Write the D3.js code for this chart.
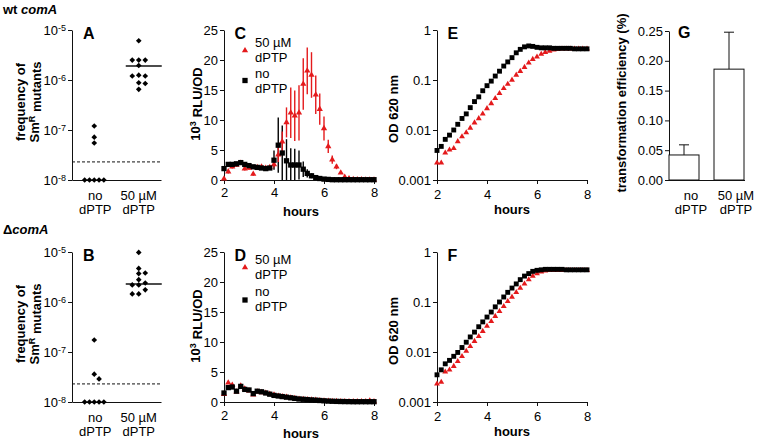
<!DOCTYPE html>
<html><head><meta charset="utf-8">
<script src="https://cdn.jsdelivr.net/npm/d3@7"></script>
<style>
body{margin:0;background:#fff;}
svg{display:block;font-family:"Liberation Sans",Arial,Helvetica,sans-serif;}
</style></head><body>
<svg id="c" width="757" height="441"></svg>
<script>
// ---------------- DATA ----------------
const groups = ["no dPTP", "50 µM dPTP"];
const groupLines = [["no", "dPTP"], ["50 µM", "dPTP"]];

// Panel A (wt comA) frequency of SmR mutants
const freqA_no   = [1.2e-7, 7.2e-8, 5.5e-8, 1e-8, 1e-8, 1e-8, 1e-8, 1e-8];
const freqA_dptp = [6.1e-6, 2.5e-6, 2.5e-6, 2.5e-6, 1.95e-6, 1.25e-6, 1.2e-6, 1.2e-6, 8.8e-7, 8.5e-7, 6.5e-7];
const medianA = 1.9e-6;
// Panel B (ΔcomA)
const freqB_no   = [1.74e-7, 3.6e-8, 2.9e-8, 1e-8, 1e-8, 1e-8, 1e-8, 1e-8];
const freqB_dptp = [9.8e-6, 4.7e-6, 3.8e-6, 3.7e-6, 2.8e-6, 2.4e-6, 2.2e-6, 2.2e-6, 1.75e-6, 1.45e-6, 1.45e-6];
const medianB = 2.3e-6;
const detectionLimit = 2.3e-8;
const freqTicks = [1e-8, 1e-7, 1e-6, 1e-5];

// time points (hours)
const hours = [2.00,2.17,2.33,2.50,2.67,2.83,3.00,3.17,3.33,3.50,3.67,3.83,4.00,4.17,4.33,4.50,4.67,4.83,5.00,5.17,5.33,5.50,5.67,5.83,6.00,6.17,6.33,6.50,6.67,6.83,7.00,7.17,7.33,7.50,7.67,7.83,8.00];
const hourTicks = [2, 4, 6, 8];

// Panel C: 10^3 RLU/OD, wt
const rluC_dptp    = [0.2,1.4,2.2,2.5,2.8,1.9,2.0,1.0,2.1,2.2,2.0,2.1,2.6,4.2,6.4,9.6,11.2,10.7,11.2,16.0,18.2,17.5,14.2,11.8,8.6,5.6,3.4,2.2,1.2,0.5,0.25,0.1,0.05,0.05,0.03,0.03,0.03];
const rluC_dptpErr = [0.3,0.3,0.3,0.3,0.3,0.3,0.3,0.3,0.3,0.3,0.3,0.3,0.5,1.2,1.7,2.5,4.2,4.2,4.6,4.3,3.9,3.8,3.2,2.6,2.0,1.1,0.7,0.4,0.2,0.2,0.1,0.1,0.1,0.1,0.1,0.1,0.1];
const rluC_no      = [1.9,2.6,2.6,2.7,2.9,2.6,2.4,2.2,2.1,2.0,1.9,2.0,3.3,5.8,4.5,3.2,2.5,2.5,2.5,1.8,1.1,0.7,0.4,0.25,0.15,0.1,0.05,0.05,0.05,0.05,0.05,0.05,0.05,0.05,0.05,0.05,0.05];
const rluC_noErr   = [0.2,0.2,0.2,0.2,0.2,0.2,0.2,0.2,0.2,0.2,0.2,0.2,1.6,4.6,4.6,3.6,2.8,2.7,2.4,1.3,0.7,0.4,0.2,0.1,0.1,0.1,0.1,0.1,0.1,0.1,0.1,0.1,0.1,0.1,0.1,0.1,0.1];
// Panel D: ΔcomA
const rluD_dptp = [1.3,3.2,2.8,1.7,2.7,2.2,1.9,1.2,1.7,1.6,1.5,1.3,1.2,1.0,0.9,0.8,0.7,0.6,0.5,0.45,0.4,0.35,0.3,0.25,0.2,0.15,0.12,0.1,0.08,0.07,0.06,0.05,0.05,0.05,0.05,0.2,0.05];
const rluD_no   = [1.5,2.4,2.5,1.8,2.6,2.1,2.0,1.4,1.8,1.7,1.5,1.3,1.1,1.0,0.9,0.8,0.7,0.6,0.5,0.45,0.4,0.35,0.3,0.25,0.2,0.15,0.12,0.1,0.08,0.07,0.06,0.05,0.05,0.05,0.05,0.05,0.05];
const rluTicks = [0, 5, 10, 15, 20, 25];

// Panel E/F: OD 620 nm
const odE_no   = [0.0039,0.0047,0.0065,0.0079,0.010,0.013,0.017,0.021,0.028,0.037,0.046,0.061,0.077,0.095,0.12,0.15,0.19,0.23,0.28,0.35,0.41,0.46,0.48,0.47,0.45,0.44,0.44,0.44,0.43,0.43,0.43,0.43,0.43,0.42,0.42,0.42,0.42];
const odE_dptp = [0.0022,0.0022,0.0035,0.0040,0.0043,0.0059,0.0074,0.0089,0.011,0.014,0.017,0.021,0.027,0.034,0.043,0.054,0.068,0.083,0.10,0.126,0.15,0.18,0.22,0.26,0.29,0.33,0.36,0.38,0.40,0.41,0.42,0.42,0.42,0.42,0.42,0.42,0.42];
const odF_no   = [0.0035,0.0044,0.0058,0.0068,0.0082,0.0098,0.0123,0.0157,0.020,0.025,0.032,0.040,0.050,0.063,0.080,0.10,0.126,0.156,0.19,0.23,0.28,0.33,0.37,0.41,0.43,0.44,0.45,0.45,0.45,0.45,0.45,0.44,0.44,0.44,0.44,0.44,0.44];
const odF_dptp = [0.0023,0.0025,0.0040,0.0044,0.0052,0.0065,0.0082,0.0104,0.013,0.0164,0.0206,0.026,0.033,0.041,0.052,0.065,0.082,0.103,0.126,0.156,0.19,0.23,0.28,0.33,0.37,0.40,0.42,0.43,0.43,0.43,0.43,0.43,0.43,0.43,0.43,0.43,0.43];
const odTicks = [0.001, 0.01, 0.1, 1];
const odTickLabels = ["0.001", "0.01", "0.1", "1"];

// Panel G: transformation efficiency (%)
const effValues = [0.042, 0.186];
const effErr = [0.017, 0.062];
const effTicks = [0, 0.05, 0.10, 0.15, 0.20, 0.25];

// ---------------- DRAW ----------------
const svg = d3.select("#c");
const RED = "#e41a1c";
const INK = "#111";
const FS = 13;

function styleAxis(g) {
  g.attr("font-size", FS).attr("font-family", null);
  g.selectAll("path.domain").attr("stroke", INK);
  g.selectAll(".tick line").attr("stroke", INK);
  g.selectAll(".tick text").attr("fill", "#000");
}
function supLabel(sel, base, sup, supSize) {
  sel.append("tspan").text(base);
  sel.append("tspan").attr("dy", "-0.5em").attr("font-size", supSize || 9).text(sup);
}
function panelLetter(x, y, s) {
  svg.append("text").attr("x", x).attr("y", y).attr("font-weight", "bold").attr("font-size", 16).text(s);
}
function yTitle(x, y, build) {
  const t = svg.append("text").attr("transform", `translate(${x},${y}) rotate(-90)`)
    .attr("text-anchor", "middle").attr("font-weight", "bold").attr("font-size", FS);
  build(t);
  return t;
}
const diamond = { draw(ctx, size) { const r = Math.sqrt(size / 2); ctx.moveTo(0, -r); ctx.lineTo(r, 0); ctx.lineTo(0, r); ctx.lineTo(-r, 0); ctx.closePath(); } };

function swarm(vals, cx, y, d, dyMin) {
  const placed = [];
  vals.slice().sort((a, b) => b - a).forEach(v => {
    const yy = y(v);
    for (let i = 0; i < 40; i++) {
      const off = i === 0 ? 0 : (i % 2 ? 1 : -1) * Math.ceil(i / 2) * d;
      const xx = cx + off;
      if (!placed.some(p => Math.abs(p.x - xx) < d * 0.9 && Math.abs(p.y - yy) < dyMin)) { placed.push({ x: xx, y: yy }); break; }
    }
  });
  return placed;
}

// ---- Dot plots A, B ----
function dotPanel(opts) {
  const x = d3.scalePoint().domain(groups).range([72, 161]).padding(0.5);
  const y = d3.scaleLog().domain([1e-8, 1e-5]).range([opts.y0, opts.y1]);
  const ga = svg.append("g").attr("transform", "translate(72,0)")
    .call(d3.axisLeft(y).tickValues(freqTicks).tickSize(4).tickSizeOuter(0).tickPadding(2).tickFormat(""));
  styleAxis(ga);
  ga.selectAll(".tick text").each(function (d) {
    const t = d3.select(this).attr("dy", "0.36em");
    supLabel(t, "10", String(Math.round(Math.log10(d))));
  });
  const gx = svg.append("g").attr("transform", `translate(0,${opts.y0})`)
    .call(d3.axisBottom(x).tickSize(0).tickSizeOuter(0).tickFormat(""));
  styleAxis(gx);
  // detection limit
  svg.append("line").attr("x1", 72).attr("x2", 161).attr("y1", y(detectionLimit)).attr("y2", y(detectionLimit))
    .attr("stroke", INK).attr("stroke-width", 1).attr("stroke-dasharray", "3,2");
  // median
  svg.append("line").attr("x1", x(groups[1]) - 13).attr("x2", x(groups[1]) + 23).attr("y1", y(opts.median)).attr("y2", y(opts.median))
    .attr("stroke", INK).attr("stroke-width", 1.5);
  [opts.no, opts.dptp].forEach((vals, i) => {
    swarm(vals, x(groups[i]), y, i === 0 ? 4.8 : 6.5, 5).forEach(p => {
      svg.append("path").attr("d", d3.symbol(diamond, 16)()).attr("transform", `translate(${p.x},${p.y})`).attr("fill", "#000");
    });
    groupLines[i].forEach((s, j) => {
      svg.append("text").attr("x", x(groups[i]) + (i === 0 ? 1 : 0)).attr("y", opts.y0 + 20 + j * 13.5)
        .attr("text-anchor", "middle").attr("font-size", FS).text(s);
    });
  });
  panelLetter(83, opts.y1 + 8.5, opts.letter);
  yTitle(25, (opts.y0 + opts.y1) / 2 - 3, t => t.text("frequency of"));
  yTitle(39, (opts.y0 + opts.y1) / 2 - 3, t => {
    t.append("tspan").text("Sm");
    t.append("tspan").attr("dy", "-0.5em").attr("font-size", 9).text("R");
    t.append("tspan").attr("dy", "0.5em").text(" mutants");
  });
}
dotPanel({ y0: 180, y1: 30, no: freqA_no, dptp: freqA_dptp, median: medianA, letter: "A" });
dotPanel({ y0: 402, y1: 252, no: freqB_no, dptp: freqB_dptp, median: medianB, letter: "B" });

// ---- Luminescence C, D ----
function rluPanel(opts) {
  const x = d3.scaleLinear().domain([2, 8]).range([224, 374]);
  const y = d3.scaleLinear().domain([0, 25]).range([opts.y0, opts.y1]);
  const gy = svg.append("g").attr("transform", "translate(224,0)")
    .call(d3.axisLeft(y).tickValues(rluTicks).tickSize(4).tickSizeOuter(0).tickPadding(2).tickFormat(d3.format("d")));
  styleAxis(gy);
  const gx = svg.append("g").attr("transform", `translate(0,${opts.y0})`)
    .call(d3.axisBottom(x).tickValues(hourTicks).tickSize(4).tickSizeOuter(0).tickPadding(opts.pad).tickFormat(d3.format("d")));
  styleAxis(gx);
  if (opts.noErr) {
    svg.append("g").selectAll("line").data(hours).join("line")
      .attr("x1", d => x(d)).attr("x2", d => x(d))
      .attr("y1", (d, i) => y(Math.max(0, opts.no[i] - opts.noErr[i])))
      .attr("y2", (d, i) => y(opts.no[i] + opts.noErr[i]))
      .attr("stroke", "#000").attr("stroke-width", 1.4);
  }
  if (opts.dptpErr) {
    svg.append("g").selectAll("line").data(hours).join("line")
      .attr("x1", d => x(d)).attr("x2", d => x(d))
      .attr("y1", (d, i) => y(Math.max(0, opts.dptp[i] - opts.dptpErr[i])))
      .attr("y2", (d, i) => y(opts.dptp[i] + opts.dptpErr[i]))
      .attr("stroke", RED).attr("stroke-width", 1.4);
  }
  const tri = d3.symbol(d3.symbolTriangle, 17)();
  const sq = d3.symbol(d3.symbolSquare, 28)();
  svg.append("g").selectAll("path").data(hours).join("path").attr("d", tri)
    .attr("transform", (d, i) => `translate(${x(d)},${y(opts.dptp[i])})`).attr("fill", RED);
  svg.append("g").selectAll("path").data(hours).join("path").attr("d", sq)
    .attr("transform", (d, i) => `translate(${x(d)},${y(opts.no[i])})`).attr("fill", "#000");
  // legend
  const L = opts.leg;
  svg.append("path").attr("d", tri).attr("transform", `translate(245,${L.tri})`).attr("fill", RED);
  svg.append("path").attr("d", sq).attr("transform", `translate(245,${L.sq})`).attr("fill", "#000");
  [["50 µM", L.t1], ["dPTP", L.t2], ["no", L.t3], ["dPTP", L.t4]].forEach(([s, yy]) =>
    svg.append("text").attr("x", 255).attr("y", yy).attr("font-size", FS).text(s));
  panelLetter(234.5, opts.y1 + 8.5, opts.letter);
  yTitle(200, (opts.y0 + opts.y1) / 2 - 1, t => {
    t.append("tspan").text("10");
    t.append("tspan").attr("dy", "-0.5em").attr("font-size", 9).text("3");
    t.append("tspan").attr("dy", "0.5em").attr("dx", 4).text("RLU/OD");
  });
  svg.append("text").attr("x", 301).attr("y", opts.y0 + 36).attr("text-anchor", "middle")
    .attr("font-weight", "bold").attr("font-size", FS).text("hours");
}
rluPanel({ y0: 180, y1: 30, pad: 4, no: rluC_no, noErr: rluC_noErr, dptp: rluC_dptp, dptpErr: rluC_dptpErr, letter: "C",
  leg: { tri: 50.5, sq: 80.5, t1: 47, t2: 62, t3: 78, t4: 93 } });
rluPanel({ y0: 402, y1: 252, pad: 5, no: rluD_no, dptp: rluD_dptp, letter: "D",
  leg: { tri: 267.5, sq: 300, t1: 264, t2: 278.5, t3: 296, t4: 310.5 } });

// ---- Growth E, F ----
function odPanel(opts) {
  const x = d3.scaleLinear().domain([2, 8]).range([437, 587]);
  const y = d3.scaleLog().domain([0.001, 1]).range([opts.y0, opts.y1]);
  const gy = svg.append("g").attr("transform", "translate(437,0)")
    .call(d3.axisLeft(y).tickValues(odTicks).tickSize(4).tickSizeOuter(0).tickPadding(2)
      .tickFormat((d, i) => odTickLabels[i]));
  styleAxis(gy);
  const gx = svg.append("g").attr("transform", `translate(0,${opts.y0})`)
    .call(d3.axisBottom(x).tickValues(hourTicks).tickSize(4).tickSizeOuter(0).tickPadding(6).tickFormat(d3.format("d")));
  styleAxis(gx);
  const tri = d3.symbol(d3.symbolTriangle, 15)();
  const sq = d3.symbol(d3.symbolSquare, 24)();
  svg.append("g").selectAll("path").data(hours).join("path").attr("d", tri)
    .attr("transform", (d, i) => `translate(${x(d)},${y(opts.dptp[i])})`).attr("fill", RED);
  svg.append("g").selectAll("path").data(hours).join("path").attr("d", sq)
    .attr("transform", (d, i) => `translate(${x(d)},${y(opts.no[i])})`).attr("fill", "#000");
  panelLetter(447.5, opts.y1 + 8.5, opts.letter);
  yTitle(398, (opts.y0 + opts.y1) / 2 + 4, t => t.text("OD 620 nm"));
  svg.append("text").attr("x", 512).attr("y", opts.y0 + 34).attr("text-anchor", "middle")
    .attr("font-weight", "bold").attr("font-size", FS).text("hours");
}
odPanel({ y0: 180, y1: 30, no: odE_no, dptp: odE_dptp, letter: "E" });
odPanel({ y0: 402, y1: 252, no: odF_no, dptp: odF_dptp, letter: "F" });

// ---- Bars G ----
(function () {
  const x = d3.scaleBand().domain(groups).range([669, 744]).paddingInner(1 / 3).paddingOuter(0);
  const y = d3.scaleLinear().domain([0, 0.25]).range([180, 31]);
  const gy = svg.append("g").attr("transform", "translate(669,0)")
    .call(d3.axisLeft(y).tickValues(effTicks).tickSize(4).tickSizeOuter(0).tickPadding(2).tickFormat(d3.format(".2f")));
  styleAxis(gy);
  groups.forEach((gname, i) => {
    const cx = x(gname) + x.bandwidth() / 2;
    svg.append("line").attr("x1", cx).attr("x2", cx).attr("y1", y(effValues[i])).attr("y2", y(effValues[i] + effErr[i]))
      .attr("stroke", INK).attr("stroke-width", 1);
    svg.append("line").attr("x1", cx - 5).attr("x2", cx + 5).attr("y1", y(effValues[i] + effErr[i])).attr("y2", y(effValues[i] + effErr[i]))
      .attr("stroke", INK).attr("stroke-width", 1);
    svg.append("rect").attr("x", x(gname)).attr("y", y(effValues[i])).attr("width", x.bandwidth())
      .attr("height", y(0) - y(effValues[i])).attr("fill", "#fff").attr("stroke", INK).attr("stroke-width", 1);
    groupLines[i].forEach((s, j) => {
      svg.append("text").attr("x", cx + 7).attr("y", 200 + j * 13.5).attr("text-anchor", "middle").attr("font-size", FS).text(s);
    });
  });
  const gx = svg.append("g").attr("transform", "translate(0,180)")
    .call(d3.axisBottom(x).tickSize(0).tickSizeOuter(0).tickFormat(""));
  styleAxis(gx);
  gx.select("path.domain").attr("d", "M669,0.5H745");
  panelLetter(678, 38, "G");
  yTitle(626, 103, t => t.text("transformation efficiency (%)"));
})();

// ---- Row headers ----
const h1 = svg.append("text").attr("x", 3).attr("y", 14).attr("font-weight", "bold").attr("font-size", FS);
h1.append("tspan").text("wt ");
h1.append("tspan").attr("font-style", "italic").text("comA");
const h2 = svg.append("text").attr("x", 3).attr("y", 234).attr("font-weight", "bold").attr("font-size", FS);
h2.append("tspan").text("Δ");
h2.append("tspan").attr("font-style", "italic").text("comA");
</script>
</body></html>
